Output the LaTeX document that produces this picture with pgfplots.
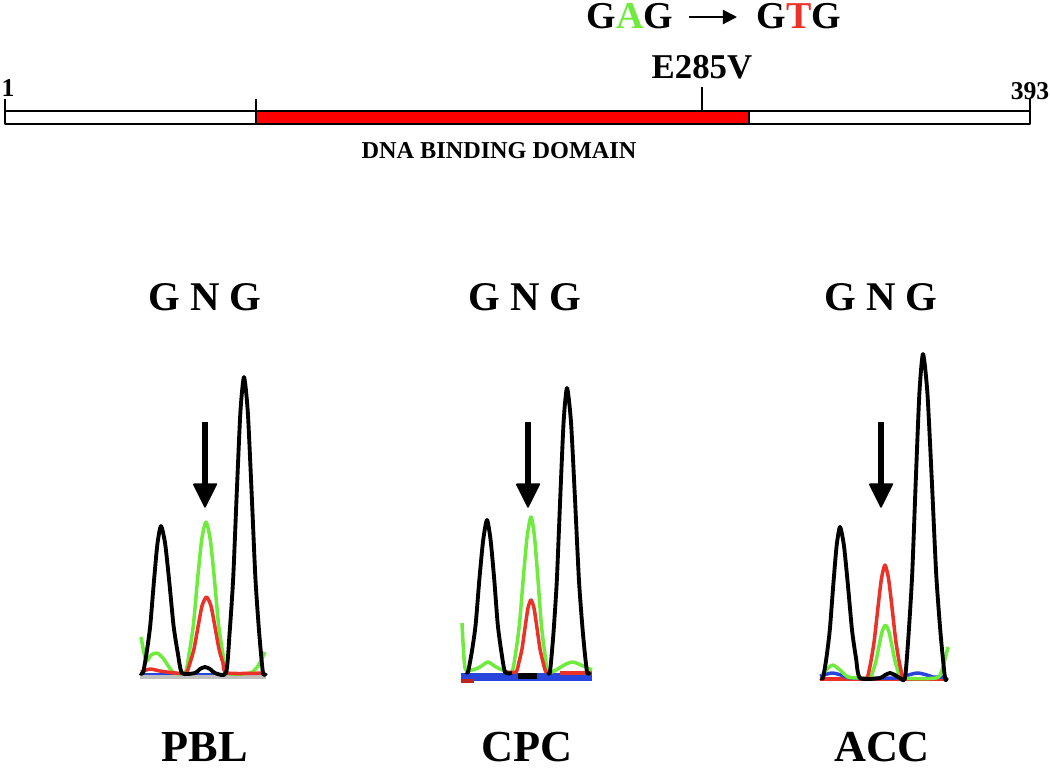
\documentclass[border=0pt]{standalone}
\usepackage{fontspec}
\setmainfont{Liberation Serif}
\usepackage{pgfplots}
\pgfplotsset{compat=1.18}
\usetikzlibrary{arrows.meta}
\definecolor{trgreen}{RGB}{110,235,60}
\definecolor{trred}{RGB}{235,50,40}
\definecolor{trblue}{RGB}{40,70,220}
\definecolor{dbdred}{RGB}{255,0,0}

\begin{document}
\begin{tikzpicture}
\begin{axis}[
    width=10.5cm, height=7.69cm, scale only axis,
    xmin=0, xmax=1050, ymin=0, ymax=769, y dir=reverse,
    hide axis, clip=false,
    every axis plot/.append style={line join=round},
]
% ---- protein bar (residues 1-393) ----
\addplot[draw=black, fill=white, line width=0.5pt] coordinates {(5,111) (1030,111) (1030,124) (5,124) (5,111)};
\addplot[draw=black, fill=dbdred, line width=0.5pt] coordinates {(256,111) (749,111) (749,124) (256,124) (256,111)};
\addplot[black, line width=0.5pt] coordinates {(5,99) (5,124)};
\addplot[black, line width=0.5pt] coordinates {(1030,99) (1030,124)};
\addplot[black, line width=0.5pt] coordinates {(256,99) (256,111)};
\addplot[black, line width=0.5pt] coordinates {(702,87) (702,111)};

\node[font=\bfseries\fontsize{7.3}{8}\selectfont, anchor=base west, inner sep=0pt] at (axis cs:1,96) {1};
\node[font=\bfseries\fontsize{7.3}{8}\selectfont, anchor=base east, inner sep=0pt] at (axis cs:1050,99) {393};
\node[font=\bfseries\fontsize{9.9}{11}\selectfont, anchor=base, inner sep=0pt] at (axis cs:702,78) {E285V};
\node[font=\bfseries\fontsize{6.9}{8}\selectfont, anchor=base, inner sep=0pt] at (axis cs:499,158) {DNA BINDING DOMAIN};
\node[font=\bfseries\fontsize{10.8}{12}\selectfont, anchor=base, inner sep=0pt] at (axis cs:630,28) {G{\color{trgreen}A}G};
\draw[-{Triangle[length=4pt,width=4pt]}, line width=0.6pt] (axis cs:689,17) -- (axis cs:737,17);
\node[font=\bfseries\fontsize{10.8}{12}\selectfont, anchor=base, inner sep=0pt] at (axis cs:799,28) {G{\color{trred}T}G};

% ---- sequence labels ----
\node[font=\bfseries\fontsize{11.6}{13}\selectfont, anchor=base, inner sep=0pt] at (axis cs:205,310) {G N G};
\node[font=\bfseries\fontsize{11.6}{13}\selectfont, anchor=base, inner sep=0pt] at (axis cs:525,310) {G N G};
\node[font=\bfseries\fontsize{11.6}{13}\selectfont, anchor=base, inner sep=0pt] at (axis cs:881,310) {G N G};
\node[font=\bfseries\fontsize{12.6}{14}\selectfont, anchor=base, inner sep=0pt] at (axis cs:205,761) {PBL};
\node[font=\bfseries\fontsize{12.6}{14}\selectfont, anchor=base, inner sep=0pt] at (axis cs:527,761) {CPC};
\node[font=\bfseries\fontsize{12.6}{14}\selectfont, anchor=base, inner sep=0pt] at (axis cs:882,761) {ACC};

% ================= PBL trace =================
\addplot[gray!50, line width=1.2pt] coordinates {(140,677) (266,677)};
\addplot[trblue, line width=0.8pt] coordinates {(140,674) (266,674)};
\addplot[trgreen, line width=1pt, smooth, tension=0.4] coordinates {
 (141,637) (146,661) (151,655) (157,653) (163,658) (173,672) (185,673)
 (189.2,653) (193.4,625) (197.6,579) (201.8,539) (206,522) (210.2,539) (214.4,579) (218.6,625) (222.8,653) (227,673)
 (250,673) (258,666) (265,652)};
\addplot[trred, line width=1pt, smooth, tension=0.4] coordinates {
 (141,672) (150,669) (160,671) (175,673) (186,673)
 (190,663) (194,649) (198,627) (202,606) (206.5,597) (211,606) (215,627) (219,649) (223,663) (227,673) (265,673)};
\addplot[black, line width=1.1pt, smooth, tension=0.4] coordinates {
 (140,673) (143,673) (146.6,653) (150.2,626) (153.8,583) (157.4,544) (161,526) (165.2,544) (169.4,583) (173.6,626) (177.8,653) (182,673)
 (195,673) (200,669) (205,667) (210,669) (215,673)
 (226,673) (229.6,633) (233.2,578) (236.8,492) (240.4,412) (244,377) (247.8,412) (251.6,492) (255.4,578) (259.2,633) (263,673) (266,673)};
\addplot[black, line width=1.5pt] coordinates {(205,422) (205,488)};
\addplot[draw=black, fill=black] coordinates {(193.5,484) (216.5,484) (205,507) (193.5,484)};

% ================= CPC trace =================
\addplot[trblue, line width=2.2pt] coordinates {(461,677) (592,677)};
\addplot[trred!80!black, line width=1pt] coordinates {(461,681) (474,681)};
\addplot[trred, line width=1.2pt] coordinates {(560,673) (592,673)};
\addplot[trgreen, line width=1pt, smooth, tension=0.4] coordinates {
 (462,623) (465,668) (472,670) (480,667) (488,662) (496,667) (505,671)
 (512,672) (515.8,652) (519.6,623) (523.4,577) (527.2,536) (531,517) (534.4,536) (537.8,577) (541.2,623) (544.6,652) (548,672)
 (556,670) (566,664) (573,662) (581,665) (592,670)};
\addplot[trred, line width=1pt, smooth, tension=0.4] coordinates {
 (505,672) (516,672) (519,662) (522,649) (525,628) (528,608) (531,600) (534,608) (537,628) (540,649) (543,662) (546,672) (552,672)};
\addplot[black, line width=1.1pt, smooth, tension=0.4] coordinates {
 (466,672) (468,672) (471.8,652) (475.6,625) (479.4,579) (483.2,540) (487,520) (490.6,540) (494.2,579) (497.8,625) (501.4,652) (505,672)
 (512,673)};
\addplot[black, line width=1.8pt] coordinates {(518,676) (537,676)};
\addplot[black, line width=1.1pt, smooth, tension=0.4] coordinates {
 (548,672) (550,672) (553.4,634) (556.8,581) (560.2,499) (563.6,422) (567,388) (571,422) (575,499) (579,581) (583,634) (587,672) (590,672)};
\addplot[black, line width=1.5pt] coordinates {(528,422) (528,488)};
\addplot[draw=black, fill=black] coordinates {(516.5,484) (539.5,484) (528,507) (516.5,484)};

% ================= ACC trace =================
\addplot[trred, line width=0.9pt] coordinates {(820,679) (948,679)};
\addplot[trblue, line width=1pt, smooth, tension=0.5] coordinates {
 (820,676) (827,674) (833,673) (841,675) (853,678) (895,678) (905,676) (917,673) (927,675) (933,677) (947,677)};
\addplot[trgreen, line width=1pt, smooth, tension=0.4] coordinates {
 (822,675) (828,668) (833,665) (840,670) (848,677) (860,678)
 (870,678) (873,671) (876,661) (879,646) (882,632) (885.5,625) (889,632) (892,646) (895,661) (898,671) (901,678)
 (936,678) (942,670) (948,647)};
\addplot[trred, line width=1pt, smooth, tension=0.4] coordinates {
 (860,678) (867,678) (870.6,663) (874.2,641) (877.8,609) (881.4,579) (885,565) (888.6,579) (892.2,609) (895.8,641) (899.4,663) (903,678) (906,678)};
\addplot[black, line width=1.1pt, smooth, tension=0.4] coordinates {
 (821,678) (823,678) (826.4,658) (829.8,630) (833.2,586) (836.6,546) (840,527) (844,546) (848,586) (852,630) (856,658) (860,678)
 (880,678) (885,675) (890,673) (895,675) (900,678)
 (905,678) (908.6,634) (912.2,574) (915.8,480) (919.4,393) (923,354) (927.4,393) (931.8,480) (936.2,574) (940.6,634) (945,678) (947,678)};
\addplot[black, line width=1.5pt] coordinates {(881,422) (881,488)};
\addplot[draw=black, fill=black] coordinates {(869.5,484) (892.5,484) (881,507) (869.5,484)};
\end{axis}
\pgfresetboundingbox
\path (current axis.south west) rectangle (current axis.north east);
\end{tikzpicture}
\end{document}
